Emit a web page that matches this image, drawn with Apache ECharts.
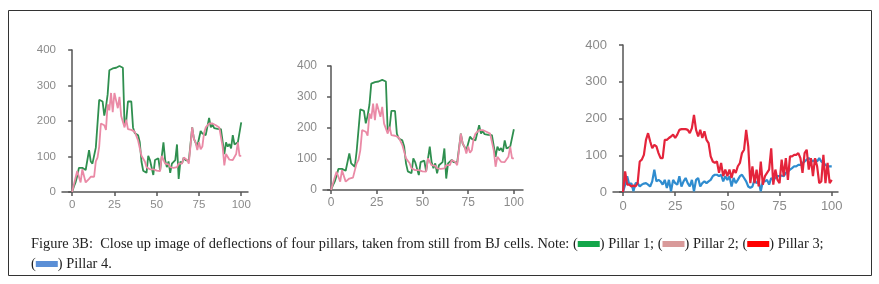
<!DOCTYPE html>
<html>
<head>
<meta charset="utf-8">
<script src="https://cdn.jsdelivr.net/npm/echarts@6/dist/echarts.min.js"></script>
<style>
  html, body { margin: 0; padding: 0; background: #fff; }
  #chart { width: 879px; height: 284px; }
</style>
</head>
<body>
<div id="chart"></div>
<script>
// frame ticks shown on every x axis
var xTicks = [0, 25, 50, 75, 100];

// deflection per frame (0..100)
var pillar1 = [0, 15, 27, 45, 68, 70, 68, 65, 62, 60, 118, 86, 80, 75, 125, 128, 260, 258, 255, 215,
  240, 275, 343, 345, 348, 348, 350, 352, 355, 360, 350, 188, 200, 255, 257, 255, 182, 166, 168, 160,
  140, 86, 60, 58, 54, 102, 90, 92, 48, 90, 88, 95, 60, 100, 140, 90, 70, 86, 54, 80,
  75, 90, 134, 37, 86, 80, 97, 90, 86, 88, 85, 182, 150, 155, 128, 150, 172, 165, 168, 160,
  162, 209, 182, 190, 180, 177, 178, 176, 177, 177, 107, 140, 128, 135, 123, 160, 134, 134, 140, 138, 196];

var pillar2 = [0, 20, 40, 59, 55, 27, 64, 60, 27, 30, 37, 43, 40, 43, 86, 97, 128, 193, 190, 188,
  175, 247, 230, 279, 225, 279, 284, 236, 268, 214, 214, 182, 204, 177, 172, 175, 177, 170, 168, 145,
  145, 102, 100, 86, 70, 68, 64, 66, 64, 59, 60, 58, 59, 102, 100, 80, 82, 78, 70, 72,
  68, 70, 70, 80, 78, 80, 97, 92, 90, 80, 82, 182, 150, 140, 118, 140, 120, 128, 166, 182,
  180, 193, 192, 193, 192, 188, 186, 182, 180, 128, 75, 107, 105, 91, 92, 90, 86, 107, 140, 102, 102];

var pillar3 = [0, 56, 20, 20, 15, 18, 15, 24, 83, 88, 101, 142, 160, 138, 119, 128, 124, 106, 92, 92,
  142, 142, 147, 151, 156, 147, 156, 169, 171, 171, 171, 169, 160, 174, 210, 169, 151, 169, 147, 165,
  142, 133, 97, 83, 79, 83, 52, 79, 43, 61, 43, 61, 38, 61, 52, 70, 79, 106, 115, 169,
  124, 24, 70, 24, 61, 15, 83, 20, 43, 52, 61, 119, 20, 61, 33, 24, 88, 43, 92, 33,
  97, 97, 101, 101, 106, 92, 52, 106, 115, 61, 92, 43, 92, 70, 24, 29, 101, 24, 79, 24, 33];

var pillar4 = [0, 20, 43, 20, 24, 2, 24, 24, 15, 20, 23, 24, 20, 15, 29, 61, 29, 33, 29, 20,
  33, 11, 33, 2, 33, 24, 20, 43, 15, 29, 38, 24, 15, 33, 2, 33, 38, 15, 24, 29,
  24, 29, 33, 43, 47, 47, 43, 47, 29, 43, 33, 43, 15, 38, 24, 33, 43, 47, 38, 29,
  15, 11, 15, 33, 24, 29, 2, 29, 29, 33, 20, 38, 33, 38, 43, 43, 45, 43, 52, 56,
  61, 65, 70, 70, 74, 74, 79, 83, 88, 92, 88, 83, 88, 83, 92, 83, 79, 74, 70, 70, 70];

var colors = {
  p1: '#2f8f4f',
  p2: '#ea8aa6',
  p3: '#e4243b',
  p4: '#2f8ccf'
};

function pts(arr) {
  return arr.map(function (v, i) { return [i, v]; });
}

function makeX(idx, min, max, fontSize, margin) {
  return {
    gridIndex: idx,
    type: 'value',
    min: min,
    max: max,
    axisLine: { show: true, onZero: false, lineStyle: { color: '#555', width: 1.5 } },
    axisTick: { show: true, length: 4, customValues: xTicks, lineStyle: { color: '#555', width: 1.5 } },
    axisLabel: { customValues: xTicks, color: '#8a8a8a', fontSize: fontSize, margin: margin, fontFamily: 'Liberation Sans' },
    splitLine: { show: false }
  };
}

function makeY(idx, fontSize) {
  return {
    gridIndex: idx,
    type: 'value',
    min: 0,
    max: 400,
    interval: 100,
    axisLine: { show: true, lineStyle: { color: '#555', width: 1.5 } },
    axisTick: { show: true, length: 4, lineStyle: { color: '#555', width: 1.5 } },
    axisLabel: { color: '#8a8a8a', fontSize: fontSize, margin: 6, fontFamily: 'Liberation Sans' },
    splitLine: { show: false }
  };
}

function line(name, data, color, idx, width) {
  return {
    name: name,
    type: 'line',
    xAxisIndex: idx,
    yAxisIndex: idx,
    data: pts(data),
    showSymbol: false,
    lineStyle: { color: color, width: width },
    itemStyle: { color: color }
  };
}

var chart = echarts.init(document.getElementById('chart'));

var option = {
  animation: false,
  backgroundColor: '#fff',
  grid: [
    { left: 62, top: 50, width: 186, height: 142 },
    { left: 323, top: 66, width: 200, height: 124 },
    { left: 613, top: 45, width: 225, height: 147 }
  ],
  xAxis: [
    makeX(0, -6, 104, 11.5, 7),
    makeX(1, -4.4, 105, 12, 7),
    makeX(2, -4.8, 103, 13, 8)
  ],
  yAxis: [
    makeY(0, 11.5),
    makeY(1, 12),
    makeY(2, 13)
  ],
  series: [
    line('Pillar 1', pillar1, colors.p1, 0, 1.8),
    line('Pillar 2', pillar2, colors.p2, 0, 1.8),
    line('Pillar 1', pillar1, colors.p1, 1, 1.8),
    line('Pillar 2', pillar2, colors.p2, 1, 1.8),
    line('Pillar 4', pillar4, colors.p4, 2, 2.2),
    line('Pillar 3', pillar3, colors.p3, 2, 2.2)
  ],
  graphic: [
    {
      type: 'rect',
      shape: { x: 8.5, y: 10.5, width: 863, height: 265 },
      style: { fill: null, stroke: '#333', lineWidth: 1 },
      silent: true
    },
    {
      type: 'text',
      left: 31,
      top: 234,
      style: {
        text: 'Figure 3B:  Close up image of deflections of four pillars, taken from still from BJ cells. Note: ({g|}) Pillar 1; ({p|}) Pillar 2; ({r|}) Pillar 3;\n({b|}) Pillar 4.',
        fontFamily: 'Liberation Serif',
        fontSize: 14.4,
        lineHeight: 20,
        fill: '#222',
        rich: {
          g: { backgroundColor: '#12a64a', width: 22, height: 6 },
          p: { backgroundColor: '#d99a9a', width: 22, height: 6 },
          r: { backgroundColor: '#ff0000', width: 22, height: 6 },
          b: { backgroundColor: '#5b8fd6', width: 22, height: 6 }
        }
      }
    }
  ]
};

chart.setOption(option);
</script>
</body>
</html>
